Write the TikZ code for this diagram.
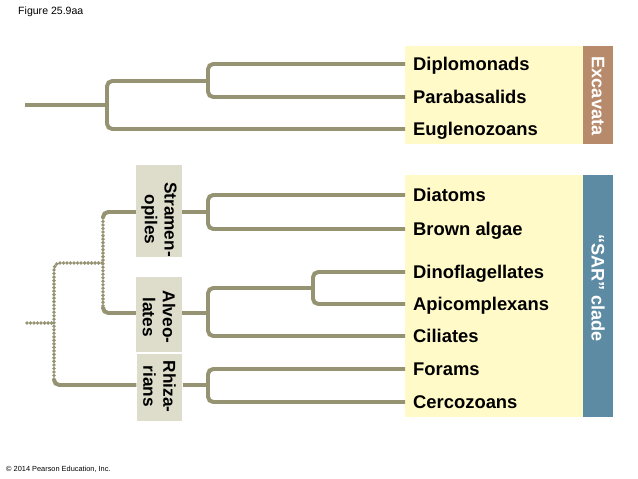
\documentclass[tikz,border=0pt]{standalone}
\usepackage{fontspec}
\setmainfont{Liberation Sans}
\usetikzlibrary{calc}
\definecolor{treeline}{RGB}{150,147,115}
\definecolor{paleyellow}{RGB}{255,250,200}
\definecolor{excbrown}{RGB}{184,138,108}
\definecolor{sarblue}{RGB}{94,139,164}
\definecolor{grpgray}{RGB}{222,220,203}

\begin{document}
\begin{tikzpicture}[x=0.03cm,y=-0.03cm]
\tikzstyle{br}=[draw=treeline,line width=3.4pt,rounded corners=4.5pt]
\tikzstyle{dt}=[draw=treeline,line width=3.3pt,line cap=round,dash pattern=on 0pt off 3pt,rounded corners=4.5pt]
\tikzstyle{tx}=[anchor=west,inner xsep=6.8pt,inner ysep=0pt,text height=11.2pt,text depth=0pt,font=\fontsize{15.7}{18}\selectfont\bfseries]
\tikzstyle{gl}=[rotate=-90,align=center,inner sep=0pt,minimum height=1.38cm,font=\fontsize{14.7}{17}\selectfont\bfseries]
\tikzstyle{cl}=[rotate=-90,text=white,font=\fontsize{15.5}{18}\selectfont\bfseries]
\useasboundingbox (0,0) rectangle (638,479);
% panels
\fill[paleyellow] (405,46) rectangle (583,144); \fill[excbrown] (583,46) rectangle (613,144);
\fill[paleyellow] (405,175) rectangle (583,417); \fill[sarblue] (583,175) rectangle (613,417);
\fill[grpgray] (136,165) rectangle (182,257); \fill[grpgray] (136,277) rectangle (182,352); \fill[grpgray] (137,354) rectangle (182,421);
% captions
\node[anchor=west,inner sep=0pt,font=\fontsize{9}{10}\selectfont] (fig) at (18,12) {Figure 25.9aa};
\node[anchor=west,inner sep=0pt,font=\fontsize{6.3}{7}\selectfont] (copy) at (6,469) {© 2014 Pearson Education, Inc.};
\node[cl] (exc) at (598,96) {Excavata}; \node[cl] (sar) at (598,288) {“SAR” clade};
% taxa
\node[tx] (dip) at (405,64) {Diplomonads}; \node[tx] (par) at (405,97) {Parabasalids}; \node[tx] (eug) at (405,129) {Euglenozoans};
\node[tx] (dia) at (405,195) {Diatoms}; \node[tx] (bro) at (405,229) {Brown algae};
\node[tx] (din) at (405,272) {Dinoflagellates}; \node[tx] (api) at (405,304) {Apicomplexans}; \node[tx] (cil) at (405,336) {Ciliates};
\node[tx] (for) at (405,369) {Forams}; \node[tx] (cer) at (405,402) {Cercozoans};
% group labels
\node[gl] (stb) at (159,219.5) {Stramen-\\opiles}; \node[gl] (alb) at (159,317) {Alveo-\\lates}; \node[gl] (rhb) at (159.5,386.5) {Rhiza-\\rians};
% Excavata tree
\coordinate (ex0) at (25,105); \coordinate (ex1) at (107,105); \coordinate (ex2) at (208,81);
\draw[br] (ex0) -- (ex1); \draw[br] (ex2) -| (ex1) |- (eug.west); \draw[br] (dip.west) -| (ex2) |- (par.west);
% SAR tree
\coordinate (sr0) at (27,323); \coordinate (sr1) at (54,323); \coordinate (sr3) at (54,379); \coordinate (sr2) at (103,263);
\coordinate (sa1) at (103,218); \coordinate (sa2) at (103,307);
\coordinate (st) at (208,212); \coordinate (al) at (208,313); \coordinate (al1) at (313,288); \coordinate (rh) at (208,385);
\draw[dt] (sr0) -- (sr1); \draw[dt] (sr3) |- (sr2); \draw[dt] (sa1) -- (sa2);
\draw[br] (sa1) |- (stb.south |- st); \draw[br] (sa2) |- (alb.south |- al); \draw[br] (sr3) |- (rhb.south |- rh);
\draw[br] (stb.north |- st) -- (st); \draw[br] (alb.north |- al) -- (al); \draw[br] (rhb.north |- rh) -- (rh);
\draw[br] (dia.west) -| (st) |- (bro.west); \draw[br] (din.west) -| (al1) |- (api.west); \draw[br] (al1) -| (al) |- (cil.west);
\draw[br] (for.west) -| (rh) |- (cer.west);
\end{tikzpicture}
\end{document}
